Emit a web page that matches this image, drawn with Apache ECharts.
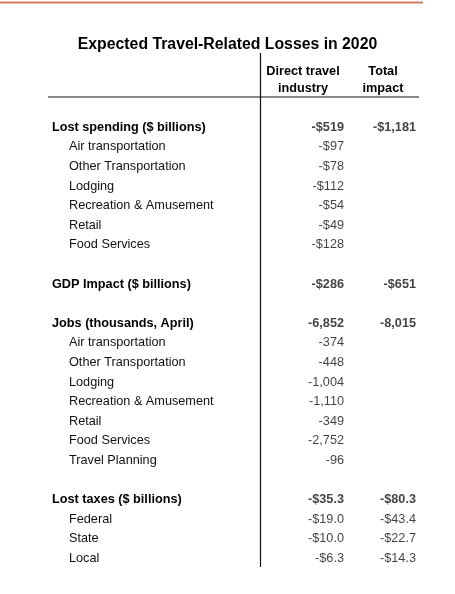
<!DOCTYPE html>
<html><head><meta charset="utf-8">
<script src="https://cdn.jsdelivr.net/npm/echarts@6/dist/echarts.min.js"></script>
<style>html,body{margin:0;padding:0;background:#fff}#c{width:455px;height:594px}</style>
</head><body><div id="c"></div>
<script>
// ---- data ----
const titleText = 'Expected Travel-Related Losses in 2020';
const columnHeaders = ['Direct travel\nindustry', 'Total\nimpact'];

const spendingHead = 'Lost spending ($ billions)';
const spendingHeadVals = [-519, -1181];
const spendingCats = ['Air transportation', 'Other Transportation', 'Lodging', 'Recreation & Amusement', 'Retail', 'Food Services'];
const spendingDirect = [-97, -78, -112, -54, -49, -128];

const gdpHead = 'GDP Impact ($ billions)';
const gdpHeadVals = [-286, -651];

const jobsHead = 'Jobs (thousands, April)';
const jobsHeadVals = [-6852, -8015];
const jobsCats = ['Air transportation', 'Other Transportation', 'Lodging', 'Recreation & Amusement', 'Retail', 'Food Services', 'Travel Planning'];
const jobsDirect = [-374, -448, -1004, -1110, -349, -2752, -96];

const taxHead = 'Lost taxes ($ billions)';
const taxHeadVals = [-35.3, -80.3];
const taxCats = ['Federal', 'State', 'Local'];
const taxDirect = [-19.0, -10.0, -6.3];
const taxTotal = [-43.4, -22.7, -14.3];

// ---- formatting ----
const fmtMoney0 = v => '-$' + Math.abs(v).toLocaleString('en-US');
const fmtNum0 = v => (v < 0 ? '-' : '') + Math.abs(v).toLocaleString('en-US');
const fmtMoney1 = v => '-$' + Math.abs(v).toFixed(1);

// ---- build rows ----
const rows = [];
function addSection(head, headVals, cats, direct, total, fmt) {
  rows.push({label: head, bold: true, d: headVals[0], t: headVals[1], fmt});
  cats.forEach((c, i) => rows.push({label: c, bold: false, d: direct ? direct[i] : null, t: total ? total[i] : null, fmt}));
}
const blank = () => rows.push({label: '', bold: false, d: null, t: null});
addSection(spendingHead, spendingHeadVals, spendingCats, spendingDirect, null, fmtMoney0);
blank();
addSection(gdpHead, gdpHeadVals, [], null, null, fmtMoney0);
blank();
addSection(jobsHead, jobsHeadVals, jobsCats, jobsDirect, null, fmtNum0);
blank();
addSection(taxHead, taxHeadVals, taxCats, taxDirect, taxTotal, fmtMoney1);

const rowLabels = rows.map(r => r.label);
const FONT = '"Liberation Sans", Arial, sans-serif';
const FS = 12.7;

function colData(key, col) {
  const out = [];
  rows.forEach((r, i) => {
    if (r[key] != null) out.push({value: [col, i], txt: r.fmt(r[key]), label: {fontWeight: r.bold ? 'bold' : 'normal'}});
  });
  return out;
}

const chart = echarts.init(document.getElementById('c'), null, {renderer: 'canvas'});
const TOP = 117.5, H = 450.8;
chart.setOption({
  animation: false,
  backgroundColor: '#fff',
  title: {
    text: titleText, left: 'center', top: 36.5, padding: [0, 0, 0, 11],
    textStyle: {fontFamily: FONT, fontSize: 15.8, fontWeight: 'bold', color: '#000'}
  },
  grid: [
    {left: 52, right: 36, top: TOP, height: H},
    {left: 263, right: 32, top: TOP, height: H}
  ],
  xAxis: [
    {gridIndex: 0, type: 'value', min: 0, max: 1, show: false},
    {gridIndex: 1, type: 'category', data: columnHeaders, position: 'top',
     axisLine: {show: false}, axisTick: {show: false}, splitLine: {show: false},
     axisLabel: {interval: 0, hideOverlap: false, margin: 20.5, fontFamily: FONT, fontSize: FS, fontWeight: 'bold', color: '#000', lineHeight: 17, align: 'center'}}
  ],
  yAxis: [
    {gridIndex: 0, type: 'category', data: rowLabels, inverse: true,
     axisLine: {show: false}, axisTick: {show: false}, splitLine: {show: false},
     axisLabel: {
       interval: 0, align: 'left', margin: 0, color: '#000',
       formatter: (v, i) => rows[i].bold ? '{h|' + v + '}' : '{s|' + v + '}',
       rich: {
         h: {fontFamily: FONT, fontSize: FS, fontWeight: 'bold', color: '#000'},
         s: {fontFamily: FONT, fontSize: FS, color: '#111', padding: [0, 0, 0, 17]}
       }
     }},
    {gridIndex: 1, type: 'category', data: rowLabels, inverse: true, show: false}
  ],
  series: [
    {type: 'scatter', xAxisIndex: 1, yAxisIndex: 1, symbolSize: 0, data: colData('d', 0),
     label: {show: true, position: 'left', distance: 0, offset: [41, 0], formatter: p => p.data.txt,
             fontFamily: FONT, fontSize: FS, color: '#111'}},
    {type: 'scatter', xAxisIndex: 1, yAxisIndex: 1, symbolSize: 0, data: colData('t', 1),
     label: {show: true, position: 'left', distance: 0, offset: [33, 0], formatter: p => p.data.txt,
             fontFamily: FONT, fontSize: FS, color: '#111'}}
  ],
  graphic: [
    {type: 'line', shape: {x1: 0, y1: 2.5, x2: 423, y2: 2.5}, style: {stroke: '#d67a68', lineWidth: 2}},
    {type: 'line', shape: {x1: 260.5, y1: 53, x2: 260.5, y2: 567}, style: {stroke: '#111', lineWidth: 1.2}},
    {type: 'line', shape: {x1: 48, y1: 97, x2: 419, y2: 97}, style: {stroke: '#111', lineWidth: 1.2}}
  ]
});
</script></body></html>
